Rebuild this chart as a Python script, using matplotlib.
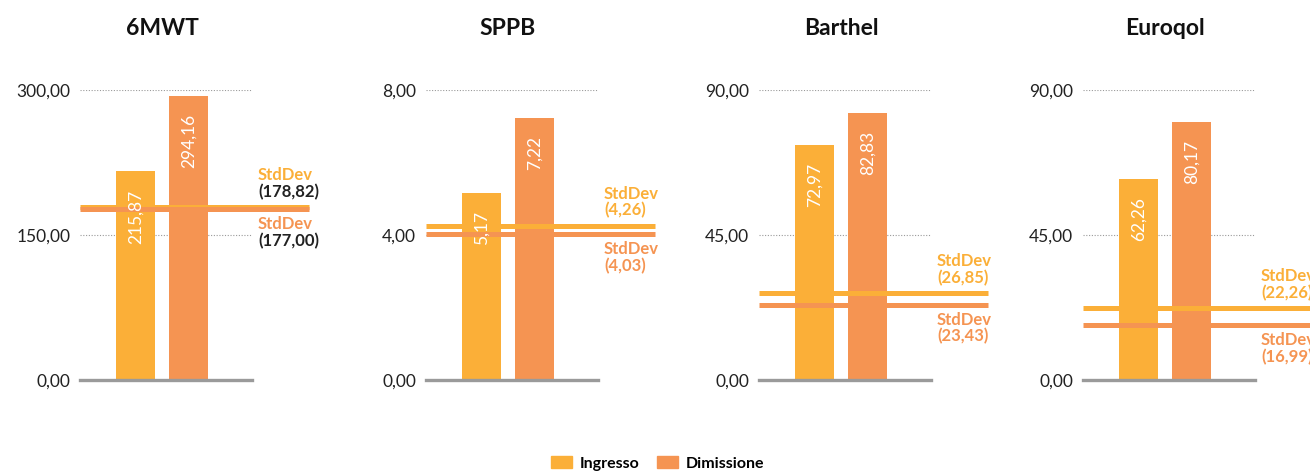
import matplotlib
matplotlib.use('Agg')
import matplotlib.pyplot as plt
from matplotlib.patches import Patch

plt.rcParams['font.family'] = ['Lato', 'DejaVu Sans']

# Scores at admission (Ingresso) and discharge (Dimissione)
titles = ['6MWT', 'SPPB', 'Barthel', 'Euroqol']
series = ['Ingresso', 'Dimissione']
ingresso = [215.87, 5.17, 72.97, 62.26]
dimissione = [294.16, 7.22, 82.83, 80.17]
std_ingresso = [178.82, 4.26, 26.85, 22.26]
std_dimissione = [177.00, 4.03, 23.43, 16.99]
y_top = [300, 8, 90, 90]
dark_std_values = [True, False, False, False]

YELLOW = '#FBAF38'
ORANGE = '#F59452'
TEXT = '#222222'


def fmt(v):
	return '{:.2f}'.format(v).replace('.', ',')


W, H = 1310, 473
fig = plt.figure(figsize=(W / 100, H / 100), dpi=100)

lefts = [80, 426, 759, 1083]
ax_w, ax_bottom, ax_h = 172, 93, 290
px_per_unit = 53.0
x_lo = -55.5 / px_per_unit
x_hi = x_lo + ax_w / px_per_unit
line_end = x_lo + 229 / px_per_unit

for i, title in enumerate(titles):
	ax = fig.add_axes([lefts[i] / W, ax_bottom / H, ax_w / W, ax_h / H])
	ax.set_xlim(x_lo, x_hi)
	ax.set_ylim(0, y_top[i])
	for s in ax.spines.values():
		s.set_visible(False)
	ax.set_xticks([])
	ticks = [0, y_top[i] / 2, y_top[i]]
	ax.set_yticks(ticks)
	ax.set_yticklabels([fmt(t) for t in ticks], fontsize=12.5, color=TEXT)
	ax.tick_params(axis='y', length=0, pad=7)

	# Dotted gridlines and the solid baseline
	for t in ticks[1:]:
		ax.axhline(t, color='#9a9a9a', lw=0.8, ls=(0, (1, 1.5)), zorder=0)
	ax.axhline(0, color='#9a9a9a', lw=2.4, zorder=4, clip_on=False)

	vals = [ingresso[i], dimissione[i]]
	colors = [YELLOW, ORANGE]
	ax.bar([0, 1], vals, width=39 / px_per_unit, color=colors, zorder=2)

	# Standard deviation lines run past the axes on the right
	stds = [std_ingresso[i], std_dimissione[i]]
	for s, c in zip(stds, colors):
		ax.plot([x_lo, line_end], [s, s], color=c, lw=3.6,
				solid_capstyle='butt', clip_on=False, zorder=3)

	num_col = [TEXT, TEXT] if dark_std_values[i] else colors
	ax.annotate('StdDev', (line_end, stds[0]), xytext=(-51, 32),
				textcoords='offset pixels', ha='left', va='center',
				color=YELLOW, fontsize=12, fontweight='bold', annotation_clip=False)
	ax.annotate('(' + fmt(stds[0]) + ')', (line_end, stds[0]), xytext=(-51, 15),
				textcoords='offset pixels', ha='left', va='center',
				color=num_col[0], fontsize=12, fontweight='bold', annotation_clip=False)
	ax.annotate('StdDev', (line_end, stds[1]), xytext=(-51, -15),
				textcoords='offset pixels', ha='left', va='center',
				color=ORANGE, fontsize=12, fontweight='bold', annotation_clip=False)
	ax.annotate('(' + fmt(stds[1]) + ')', (line_end, stds[1]), xytext=(-51, -32),
				textcoords='offset pixels', ha='left', va='center',
				color=num_col[1], fontsize=12, fontweight='bold', annotation_clip=False)

	# Bar values written vertically inside the bars
	for x, v in zip([0, 1], vals):
		ax.annotate(fmt(v), (x, v), xytext=(0, -18), textcoords='offset pixels',
					rotation=90, ha='center', va='top', color='white',
					fontsize=12.5, zorder=5)

	ax.annotate(title, (0.5, 1), xycoords='axes fraction', xytext=(-4, 62),
				textcoords='offset pixels', ha='center', va='center',
				fontsize=16.5, fontweight='bold', color='#111111')

handles = [Patch(color=YELLOW, label=series[0]), Patch(color=ORANGE, label=series[1])]
leg = fig.legend(handles=handles, loc='center', bbox_to_anchor=(0.502, 0.02),
				 ncol=2, frameon=False, handlelength=1.35, handleheight=0.75,
				 handletextpad=0.5, columnspacing=1.05,
				 prop={'size': 11.5, 'weight': 'bold'})

fig.savefig('out.png', dpi=100)
